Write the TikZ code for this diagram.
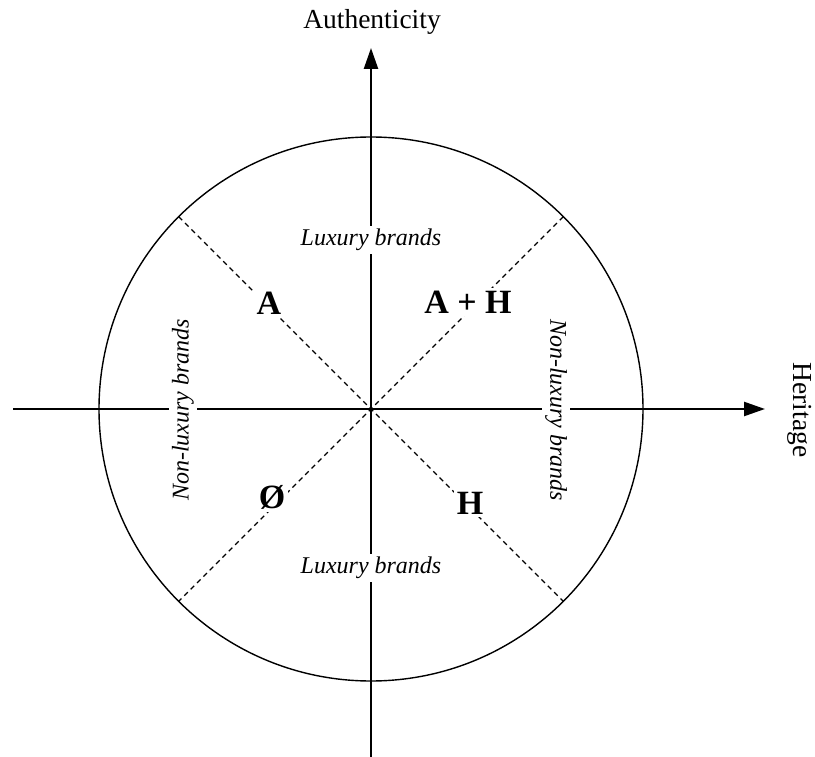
\documentclass[tikz,border=0pt]{standalone}
\usepackage{fontspec}
\setmainfont{Liberation Serif}
\usetikzlibrary{arrows.meta}
\begin{document}
\begin{tikzpicture}[x=1pt,y=-1pt,
 axis/.style={line width=2.4pt},
 arr/.style={-{Triangle[length=21pt,width=14pt]}},
 diag/.style={line width=1.3pt, dash pattern=on 5pt off 4pt},
 rim/.style={line width=1.4pt},
 ital/.style={font=\fontsize{24}{28}\selectfont\itshape, fill=white, inner sep=3pt},
 big/.style={font=\fontsize{34}{38}\selectfont\bfseries, fill=white, inner sep=3pt},
 ttl/.style={font=\fontsize{27.5}{30}\selectfont, inner sep=0pt}]
\useasboundingbox (0,0) rectangle (815,757);
\coordinate (o) at (371,409);
\coordinate (vtop) at (371,48);
\coordinate (vbot) at (371,757);
\coordinate (hleft) at (13,409);
\coordinate (hright) at (765,409);
\coordinate (ul) at (178.7,216.7);
\coordinate (ur) at (563.3,216.7);
\coordinate (ll) at (178.7,601.3);
\coordinate (lr) at (563.3,601.3);
\draw[rim] (o) circle[radius=272pt];
\draw[diag] (ul) -- (lr);
\draw[diag] (ur) -- (ll);
\draw[axis,arr] (vbot) -- (vtop);
\draw[axis,arr] (hleft) -- (hright);
\node[ttl] (auth) at (372,22) {Authenticity};
\node[ttl,rotate=-90] (her) at (800,410) {Heritage};
\node[ital] (luxt) at (371,240) {Luxury brands};
\node[ital] (luxb) at (371,568) {Luxury brands};
\node[ital,rotate=90] (nll) at (183,410) {Non-luxury brands};
\node[ital,rotate=-90] (nlr) at (556,410) {Non-luxury brands};
\node[big] (a) at (269,303) {A};
\node[big] (ah) at (468,302) {A + H};
\node[big] (h) at (470,503) {H};
\node[big] (e) at (272,497) {Ø};
\end{tikzpicture}
\end{document}
